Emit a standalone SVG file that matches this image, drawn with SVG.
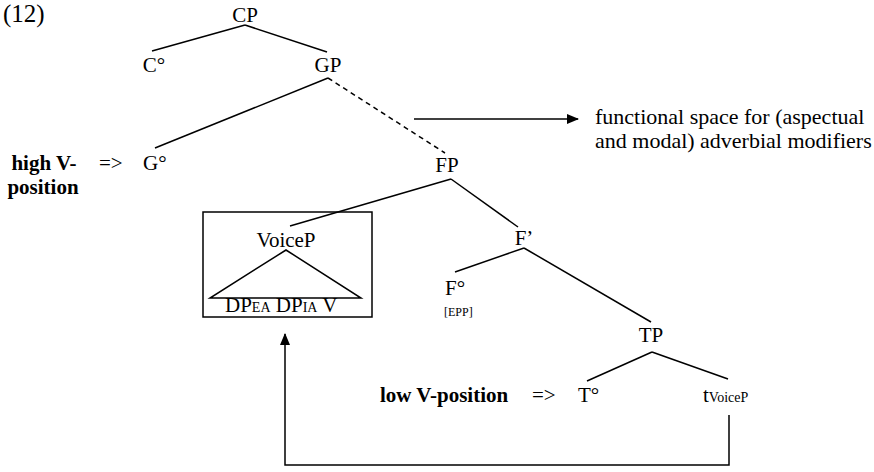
<svg xmlns="http://www.w3.org/2000/svg" width="874" height="472" viewBox="0 0 874 472">
<style>
text{font-family:"Liberation Serif","Times New Roman",serif;fill:#000}
.n{font-size:21px}
.c{text-anchor:middle}
.b{font-weight:bold;font-size:21px}
.s{font-size:22px}
.sub{font-size:14px}
.tiny{font-size:12px}
.e{stroke:#000;stroke-width:1.5;fill:none}
.d{stroke-dasharray:5 4}
</style>
<defs>
<marker id="ah" markerWidth="12" markerHeight="10" refX="11" refY="5" orient="auto" markerUnits="userSpaceOnUse">
<path d="M0,0 L12,5 L0,10 Z" fill="#000"/>
</marker>
</defs>
<text x="3" y="22" style="font-size:25px">(12)</text>
<g id="connectors">
<line class="e" x1="245" y1="25" x2="152" y2="51"/>
<line class="e" x1="245" y1="25" x2="327" y2="52"/>
<line class="e" x1="328" y1="78" x2="155" y2="148"/>
<line class="e d" x1="328" y1="78" x2="445" y2="153"/>
<line class="e" x1="451" y1="179" x2="290" y2="226"/>
<line class="e" x1="451" y1="179" x2="518" y2="227"/>
<line class="e" x1="524" y1="248" x2="455" y2="272"/>
<line class="e" x1="524" y1="248" x2="651" y2="322"/>
<line class="e" x1="652" y1="352" x2="587" y2="381"/>
<line class="e" x1="652" y1="352" x2="728" y2="379"/>
<line class="e" x1="414" y1="119" x2="578" y2="119" marker-end="url(#ah)"/>
<path class="e" d="M729,415 V465 H285 V334" marker-end="url(#ah)"/>
</g>
<g id="CP"><text class="n c" x="245" y="22">CP</text></g>
<g id="C0"><text class="n c" x="154" y="72">C°</text></g>
<g id="GP"><text class="n c" x="328" y="72">GP</text></g>
<g id="G0"><text class="n" x="143" y="170">G°</text></g>
<g id="highV"><text class="b c" x="44" y="170">high V-</text><text class="b c" x="43" y="194">position</text><text class="n" x="99" y="170">=&gt;</text></g>
<g id="functional"><text class="s" x="595" y="124">functional space for (aspectual</text><text class="s" x="595" y="148">and modal) adverbial modifiers</text></g>
<g id="FP"><text class="n c" x="447" y="172">FP</text></g>
<g id="Fbar"><text class="n c" x="524" y="245">F’</text></g>
<g id="F0"><text class="n" x="445" y="295">F°</text><text class="tiny" x="444" y="316">[EPP]</text></g>
<g id="VoiceP">
<rect class="e" x="203" y="212" width="169" height="105"/>
<text class="n c" x="286" y="247">VoiceP</text>
<polygon class="e" points="286,250 210,298 361,298"/>
<text class="n" x="225" y="312">DP<tspan class="sub">EA</tspan> DP<tspan class="sub">IA</tspan> V</text>
</g>
<g id="TP"><text class="n c" x="651" y="342">TP</text></g>
<g id="T0"><text class="n" x="578" y="402">T°</text></g>
<g id="trace"><text class="n" x="703" y="402">t<tspan class="sub">VoiceP</tspan></text></g>
<g id="lowV"><text class="b" x="380" y="402">low V-position</text><text class="n" x="532" y="402">=&gt;</text></g>
</svg>
